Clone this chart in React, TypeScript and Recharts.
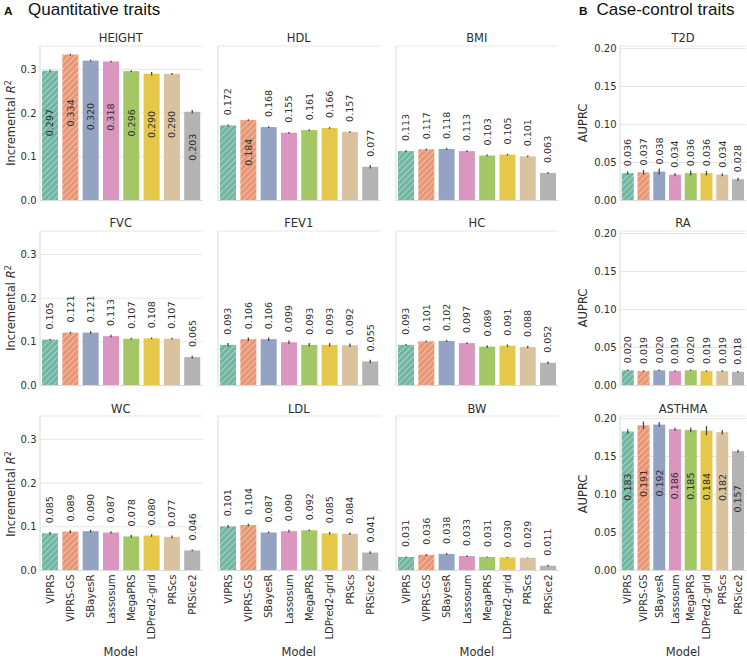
import React from "react";
import { BarChart, Bar, XAxis, YAxis, CartesianGrid, ErrorBar } from "recharts";

const MODELS = ["VIPRS", "VIPRS-GS", "SBayesR", "Lassosum", "MegaPRS", "LDPred2-grid", "PRScs", "PRSice2"];
const COLORS = ["#71b6a1", "#e99675", "#95a3c3", "#db96c0", "#a2c764", "#e5c849", "#dbc29e", "#b3b3b3"];
const HATCHED = [true, true, false, false, false, false, false, false];

// quantitative traits (incremental R^2) and error half-widths
const HEIGHT = [0.297, 0.334, 0.320, 0.318, 0.296, 0.290, 0.290, 0.203];
const HEIGHT_ERR = [0.002, 0.002, 0.002, 0.002, 0.002, 0.004, 0.002, 0.004];
const HDL = [0.172, 0.184, 0.168, 0.155, 0.161, 0.166, 0.157, 0.077];
const HDL_ERR = [0.002, 0.002, 0.002, 0.002, 0.002, 0.002, 0.002, 0.004];
const BMI = [0.113, 0.117, 0.118, 0.113, 0.103, 0.105, 0.101, 0.063];
const BMI_ERR = [0.002, 0.002, 0.002, 0.002, 0.002, 0.002, 0.002, 0.002];
const FVC = [0.105, 0.121, 0.121, 0.113, 0.107, 0.108, 0.107, 0.065];
const FVC_ERR = [0.002, 0.002, 0.003, 0.003, 0.002, 0.002, 0.002, 0.003];
const FEV1 = [0.093, 0.106, 0.106, 0.099, 0.093, 0.093, 0.092, 0.055];
const FEV1_ERR = [0.004, 0.004, 0.004, 0.004, 0.004, 0.004, 0.004, 0.004];
const HC = [0.093, 0.101, 0.102, 0.097, 0.089, 0.091, 0.088, 0.052];
const HC_ERR = [0.002, 0.002, 0.002, 0.002, 0.003, 0.003, 0.003, 0.003];
const WC = [0.085, 0.089, 0.090, 0.087, 0.078, 0.080, 0.077, 0.046];
const WC_ERR = [0.003, 0.003, 0.003, 0.003, 0.003, 0.003, 0.003, 0.002];
const LDL = [0.101, 0.104, 0.087, 0.090, 0.092, 0.085, 0.084, 0.041];
const LDL_ERR = [0.003, 0.003, 0.002, 0.003, 0.002, 0.003, 0.003, 0.003];
const BW = [0.031, 0.036, 0.038, 0.033, 0.031, 0.030, 0.029, 0.011];
const BW_ERR = [0.001, 0.002, 0.002, 0.002, 0.001, 0.001, 0.001, 0.002];

// case-control traits (AUPRC)
const T2D = [0.036, 0.037, 0.038, 0.034, 0.036, 0.036, 0.034, 0.028];
const T2D_ERR = [0.002, 0.003, 0.004, 0.002, 0.003, 0.003, 0.002, 0.002];
const RA = [0.020, 0.019, 0.020, 0.019, 0.020, 0.019, 0.019, 0.018];
const RA_ERR = [0.001, 0.001, 0.001, 0.001, 0.001, 0.001, 0.001, 0.001];
const ASTHMA = [0.183, 0.191, 0.192, 0.186, 0.185, 0.184, 0.182, 0.157];
const ASTHMA_ERR = [0.003, 0.005, 0.003, 0.002, 0.003, 0.006, 0.003, 0.002];

const A_TICKS = [0, 0.1, 0.2, 0.3];
const B_TICKS = [0, 0.05, 0.1, 0.15, 0.2];

const ALL = [0, 1, 2, 3, 4, 5, 6, 7];
const PANELS = [
  { id: "height", title: "HEIGHT", values: HEIGHT, err: HEIGHT_ERR, col: 0, row: 0, inside: ALL },
  { id: "hdl", title: "HDL", values: HDL, err: HDL_ERR, col: 1, row: 0, inside: [1] },
  { id: "bmi", title: "BMI", values: BMI, err: BMI_ERR, col: 2, row: 0, inside: [] },
  { id: "fvc", title: "FVC", values: FVC, err: FVC_ERR, col: 0, row: 1, inside: [] },
  { id: "fev1", title: "FEV1", values: FEV1, err: FEV1_ERR, col: 1, row: 1, inside: [] },
  { id: "hc", title: "HC", values: HC, err: HC_ERR, col: 2, row: 1, inside: [] },
  { id: "wc", title: "WC", values: WC, err: WC_ERR, col: 0, row: 2, inside: [] },
  { id: "ldl", title: "LDL", values: LDL, err: LDL_ERR, col: 1, row: 2, inside: [] },
  { id: "bw", title: "BW", values: BW, err: BW_ERR, col: 2, row: 2, inside: [] },
  { id: "t2d", title: "T2D", values: T2D, err: T2D_ERR, col: 3, row: 0, inside: [] },
  { id: "ra", title: "RA", values: RA, err: RA_ERR, col: 3, row: 1, inside: [] },
  { id: "asthma", title: "ASTHMA", values: ASTHMA, err: ASTHMA_ERR, col: 3, row: 2, inside: ALL },
];

// layout (px)
const COL_X = [[39.5, 202], [217.5, 380], [395.7, 558], [620, 746]];
const ROW_BOTTOM = [200, 385.2, 570.8];
const PLOT_H = 154.5;
const YW = 40;
const TEXT = "#2e2e2e";
const FONT = "DejaVu Sans, sans-serif";
const HEAD = "Liberation Sans, Arial, sans-serif";

function makeShape(pid: string, inside: number[], gap: number) {
  return (p: any) => {
    const { x, y, width, height, index } = p;
    const v = p.payload?.v ?? 0;
    const cx = x + width / 2;
    const hid = `hatch-${pid}-${index}`;
    const isIn = inside.includes(index);
    return (
      <g>
        {HATCHED[index] && (
          <defs>
            <pattern id={hid} patternUnits="userSpaceOnUse" width={4.3} height={4.3} patternTransform="rotate(45)">
              <rect width={4.3} height={4.3} fill={COLORS[index]} />
              <line x1={0} y1={0} x2={0} y2={4.3} stroke="#ffffff" strokeOpacity={0.85} strokeWidth={0.9} />
            </pattern>
          </defs>
        )}
        <rect x={x} y={y} width={width} height={height} fill={HATCHED[index] ? `url(#${hid})` : COLORS[index]} />
        {isIn ? (
          <text transform={`translate(${cx},${y + height * 0.4}) rotate(-90)`} textAnchor="middle" dy="0.35em"
            fontSize={9.5} fill={TEXT} fontFamily={FONT}>{v.toFixed(3)}</text>
        ) : (
          <text transform={`translate(${cx},${y - gap}) rotate(-90)`} textAnchor="start" dy="0.35em"
            fontSize={9.5} fill={TEXT} fontFamily={FONT}>{v.toFixed(3)}</text>
        )}
      </g>
    );
  };
}

const XTick = (p: any) => (
  <text transform={`translate(${p.x},${p.y + 4}) rotate(-90)`} textAnchor="end" dy="0.35em"
    fontSize={10} fill={TEXT} fontFamily={FONT}>{p.payload.value}</text>
);

function Panel({ cfg }: { cfg: (typeof PANELS)[0] }) {
  const [x0, x1] = COL_X[cfg.col];
  const bottom = ROW_BOTTOM[cfg.row];
  const top = bottom - PLOT_H;
  const isB = cfg.col === 3;
  const bottomRow = cfg.row === 2;
  const xh = bottomRow ? 80 : 8;
  const w = x1 - x0;
  const data = MODELS.map((m, i) => ({ name: m, v: cfg.values[i], e: cfg.err[i] }));
  const showY = cfg.col === 0 || cfg.col === 3;
  return (
    <>
      <div style={{ position: "absolute", left: x0, top: top - 14.5, width: w, textAlign: "center",
        fontSize: 11.5, lineHeight: "14px", color: TEXT, fontFamily: FONT }}>{cfg.title}</div>
      <div style={{ position: "absolute", left: x0 - YW, top: top - 6 }}>
        <BarChart width={w + YW + 2} height={PLOT_H + xh + 6} data={data}
          margin={{ top: 6, right: 2, left: 0, bottom: 0 }} barCategoryGap={isB ? "11%" : "10%"}>
          <CartesianGrid vertical={false} stroke="#e6e6e6" strokeWidth={1} />
          <XAxis dataKey="name" interval={0} height={xh} tickLine={false} tickSize={0} tickMargin={0}
            axisLine={{ stroke: "#d9d9d9" }} tick={bottomRow ? <XTick /> : false} />
          <YAxis width={YW} type="number" domain={isB ? [0, 0.2033] : [0, 0.3535]} ticks={isB ? B_TICKS : A_TICKS}
            interval={0} allowDataOverflow tickLine={false} tickSize={0} tickMargin={3.5}
            axisLine={{ stroke: "#d9d9d9" }}
            tick={showY ? { fontSize: 10, fill: TEXT, fontFamily: FONT } : false}
            tickFormatter={(v: number) => (isB ? v.toFixed(2) : v.toFixed(1))} />
          <Bar dataKey="v" isAnimationActive={false} shape={makeShape(cfg.id, cfg.inside, isB ? 7 : 10)}>
            <ErrorBar dataKey="e" width={0} stroke="#474747" strokeWidth={1.3} direction="y" />
          </Bar>
        </BarChart>
      </div>
    </>
  );
}

function RotLabel({ x, y, children }: { x: number; y: number; children: React.ReactNode }) {
  return (
    <div style={{ position: "absolute", left: x, top: y, transform: "translate(-50%,-50%) rotate(-90deg)",
      whiteSpace: "nowrap", fontSize: 11.5, color: TEXT, fontFamily: FONT, lineHeight: "14px" }}>{children}</div>
  );
}

export default function App() {
  return (
    <div style={{ position: "absolute", left: 0, top: 0, width: 747, height: 658, background: "#ffffff", overflow: "hidden" }}>
      <div style={{ position: "absolute", left: 4, top: 4.8, fontSize: 11.8, lineHeight: "12px", fontWeight: "bold",
        fontFamily: HEAD, color: "#111" }}>A</div>
      <div style={{ position: "absolute", left: 28, top: 2.2, fontSize: 17, lineHeight: "15px",
        fontFamily: HEAD, color: "#111", whiteSpace: "nowrap" }}>Quantitative traits</div>
      <div style={{ position: "absolute", left: 579, top: 4.8, fontSize: 11.8, lineHeight: "12px", fontWeight: "bold",
        fontFamily: HEAD, color: "#111" }}>B</div>
      <div style={{ position: "absolute", left: 596.5, top: 2.2, fontSize: 17, lineHeight: "15px",
        fontFamily: HEAD, color: "#111", whiteSpace: "nowrap" }}>Case-control traits</div>

      {PANELS.map((p) => <Panel key={p.id} cfg={p} />)}

      {ROW_BOTTOM.map((b, i) => (
        <React.Fragment key={i}>
          <RotLabel x={10} y={b - PLOT_H / 2}>Incremental <i>R</i><sup style={{ fontSize: 8, verticalAlign: "4px" }}>2</sup></RotLabel>
          <RotLabel x={583} y={b - PLOT_H / 2}>AUPRC</RotLabel>
        </React.Fragment>
      ))}

      {COL_X.map(([a, b], i) => (
        <div key={i} style={{ position: "absolute", left: a, width: b - a, top: 644.5, textAlign: "center",
          fontSize: 11.5, lineHeight: "14px", color: TEXT, fontFamily: FONT }}>Model</div>
      ))}
    </div>
  );
}
